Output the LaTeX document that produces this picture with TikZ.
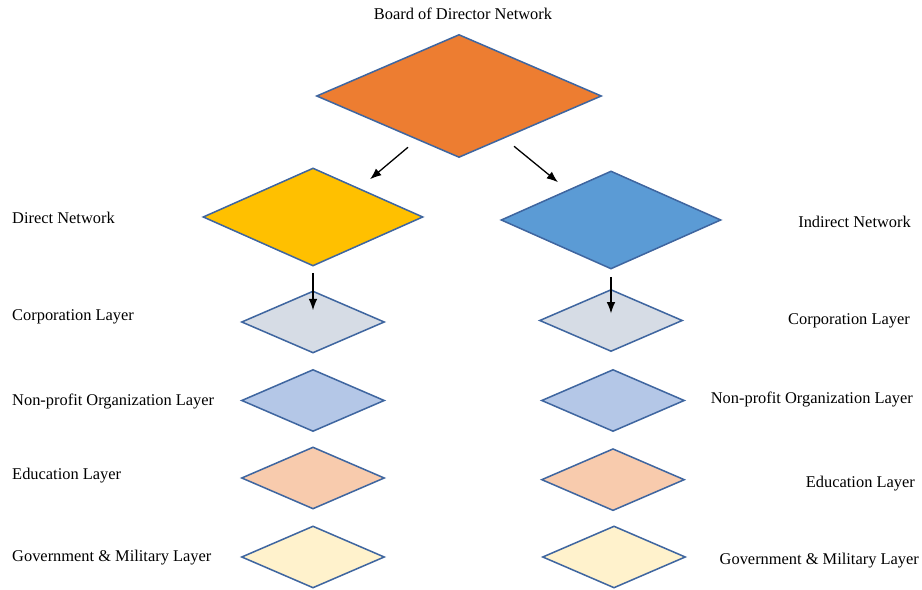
\documentclass[tikz,border=0pt]{standalone}
\usepackage{fontspec}
\setmainfont{Liberation Serif}
\usetikzlibrary{shapes.geometric,arrows.meta}

\definecolor{boardorange}{HTML}{ED7D31}
\definecolor{directgold}{HTML}{FFC000}
\definecolor{indirectblue}{HTML}{5B9BD5}
\definecolor{edgeblue}{HTML}{3F66A0}
\definecolor{corpfill}{HTML}{D6DCE5}
\definecolor{nonproffill}{HTML}{B4C7E7}
\definecolor{edufill}{HTML}{F8CBAD}
\definecolor{govfill}{HTML}{FFF2CC}

\begin{document}
\begin{tikzpicture}[
        netdia/.style={
            draw=edgeblue,
            line width=1.3pt,
            shape=diamond,
            inner sep=0pt,
            minimum width=6.6cm,
            minimum height=2.94cm
        },
        layerdia/.style={
            draw=edgeblue,
            line width=1.3pt,
            shape=diamond,
            inner sep=0pt,
            minimum width=4.29cm,
            minimum height=1.86cm
        },
        leftlbl/.style={anchor=west, inner sep=0pt},
        rightlbl/.style={anchor=east, inner sep=0pt},
        flow/.style={-{Latex[length=3.4mm,width=2.6mm]}, line width=1.1pt}
    ]
        \path[use as bounding box, fill=white] (0,0) rectangle (27.66,17.7);
        \fontsize{14}{17}\selectfont

        % Network diamonds
        \node[netdia, fill=boardorange, minimum width=8.55cm, minimum height=3.69cm] (board) at (13.77,14.82) {};
        \node[netdia, fill=directgold] (direct) at (9.39,11.19) {};
        \node[netdia, fill=indirectblue] (indirect) at (18.33,11.10) {};

        % Layer diamonds, direct side
        \node[layerdia, fill=corpfill] (lcorp) at (9.39,8.04) {};
        \node[layerdia, fill=nonproffill] (lnonprof) at (9.39,5.685) {};
        \node[layerdia, fill=edufill] (ledu) at (9.39,3.36) {};
        \node[layerdia, fill=govfill] (lgov) at (9.39,0.99) {};

        % Layer diamonds, indirect side
        \node[layerdia, fill=corpfill] (rcorp) at (18.33,8.085) {};
        \node[layerdia, fill=nonproffill] (rnonprof) at (18.39,5.685) {};
        \node[layerdia, fill=edufill] (redu) at (18.39,3.31) {};
        \node[layerdia, fill=govfill] (rgov) at (18.42,0.99) {};

        % Arrows
        \draw[flow] ([shift={(-1.53,0.33)}]board.south) -- ([shift={(1.71,-0.36)}]direct.north);
        \draw[flow] ([shift={(1.65,0.36)}]board.south) -- ([shift={(-1.59,-0.36)}]indirect.north);
        \draw[flow] ([yshift=-0.18cm]direct.south) -- ([yshift=-0.6cm]lcorp.north);
        \draw[flow] ([yshift=-0.21cm]indirect.south) -- ([yshift=-0.74cm]rcorp.north);

        % Labels
        \node (boardlbl) at (13.89,17.29) {Board of Director Network};
        \node[leftlbl] (directlbl) at (0.36,11.16) {Direct Network};
        \node[rightlbl] (indirectlbl) at (27.33,11.05) {Indirect Network};

        \node[leftlbl] (lcorplbl) at (0.36,8.19) {Corporation Layer};
        \node[leftlbl] (lnonproflbl) at (0.36,5.66) {Non-profit Organization Layer};
        \node[leftlbl] (ledulbl) at (0.36,3.44) {Education Layer};
        \node[leftlbl] (lgovlbl) at (0.36,0.96) {Government \& Military Layer};

        \node[rightlbl] (rcorplbl) at (27.30,8.06) {Corporation Layer};
        \node[rightlbl] (rnonproflbl) at (27.39,5.72) {Non-profit Organization Layer};
        \node[rightlbl] (redulbl) at (27.45,3.19) {Education Layer};
        \node[rightlbl] (rgovlbl) at (27.57,0.89) {Government \& Military Layer};

    \end{tikzpicture}
\end{document}
